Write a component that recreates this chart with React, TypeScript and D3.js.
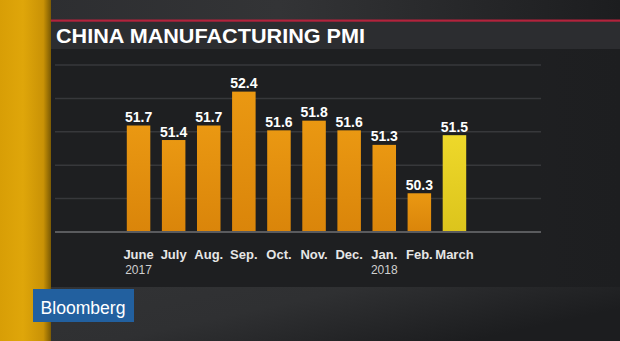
import React from "react";
import * as d3 from "d3";

const title = "CHINA MANUFACTURING PMI";
const categories = ["June", "July", "Aug.", "Sep.", "Oct.", "Nov.", "Dec.", "Jan.", "Feb.", "March"];
const values = [51.7, 51.4, 51.7, 52.4, 51.6, 51.8, 51.6, 51.3, 50.3, 51.5];
const yearLabels = ["2017", "", "", "", "", "", "", "2018", "", ""];
const highlightIndex = 9;
const yDomain = [49.5, 52.95];
const gridCount = 5;
const brand = "Bloomberg";

const W = 620;
const H = 341;
const FONT = "'Liberation Sans', Arial, Helvetica, sans-serif";

export default function App() {
  const x = d3.scaleBand<string>().domain(categories).range([121, 472]).paddingInner(0.33).paddingOuter(0.165);
  const y = d3.scaleLinear().domain(yDomain).range([232, 65]);
  const gridValues = d3.range(gridCount + 1).map((i) => yDomain[0] + ((yDomain[1] - yDomain[0]) * i) / gridCount);

  return (
    <svg width={W} height={H} style={{ position: "fixed", left: 0, top: 0, display: "block" }} fontFamily={FONT}>
      <defs>
        <linearGradient id="bg" x1="0" x2="1" y1="0" y2="0">
          <stop offset="0" stopColor="#26272a" />
          <stop offset="1" stopColor="#1d1e20" />
        </linearGradient>
        <linearGradient id="topStrip" x1="0" x2="1" y1="0" y2="0">
          <stop offset="0" stopColor="#2c2d30" />
          <stop offset="0.45" stopColor="#333436" />
          <stop offset="1" stopColor="#1c1d1f" />
        </linearGradient>
        <linearGradient id="bottomStrip" x1="0" x2="1" y1="0" y2="0.4">
          <stop offset="0" stopColor="#323335" />
          <stop offset="0.5" stopColor="#2f3032" />
          <stop offset="1" stopColor="#1c1d1f" />
        </linearGradient>
        <linearGradient id="yellowStripe" x1="0" x2="1" y1="0" y2="0">
          <stop offset="0" stopColor="#d89e06" />
          <stop offset="0.45" stopColor="#dfa60a" />
          <stop offset="0.85" stopColor="#c99206" />
          <stop offset="1" stopColor="#7a5a04" />
        </linearGradient>
        <linearGradient id="barOrange" x1="0" x2="0" y1="0" y2="1">
          <stop offset="0" stopColor="#ea9812" />
          <stop offset="1" stopColor="#da850a" />
        </linearGradient>
        <linearGradient id="barYellow" x1="0" x2="0" y1="0" y2="1">
          <stop offset="0" stopColor="#eed82a" />
          <stop offset="1" stopColor="#dcc41c" />
        </linearGradient>
      </defs>

      <rect x={0} y={0} width={W} height={H} fill="url(#bg)" />
      <rect x={0} y={0} width={W} height={20} fill="url(#topStrip)" />
      <rect x={0} y={287} width={W} height={H - 287} fill="url(#bottomStrip)" />

      {/* left yellow stripe */}
      <rect x={0} y={0} width={51} height={H} fill="url(#yellowStripe)" />

      {/* title band */}
      <rect x={51} y={21} width={W - 51} height={28} fill="#2c2d30" />
      <rect x={51} y={19.5} width={W - 51} height={2.2} fill="#b3233c" />
      <text x={56} y={43.3} fill="#ffffff" fontSize={21} fontWeight="bold" textLength={309} lengthAdjust="spacingAndGlyphs">
        {title}
      </text>

      {/* chart panel */}
      <rect x={51} y={49} width={490} height={238} fill="#1e1f21" />

      {gridValues.slice(1).map((v, i) => (
        <line key={i} x1={55} x2={541} y1={y(v)} y2={y(v)} stroke="#37383b" strokeWidth={1.5} />
      ))}

      {values.map((v, i) => {
        const c = categories[i];
        const bx = x(c) as number;
        return (
          <rect
            key={c}
            x={bx}
            y={y(v)}
            width={x.bandwidth()}
            height={y(yDomain[0]) - y(v)}
            fill={i === highlightIndex ? "url(#barYellow)" : "url(#barOrange)"}
          />
        );
      })}

      <line x1={55} x2={541} y1={y(yDomain[0])} y2={y(yDomain[0])} stroke="#5a5b5e" strokeWidth={2} />

      {values.map((v, i) => {
        const c = categories[i];
        const cx = (x(c) as number) + x.bandwidth() / 2;
        return (
          <text key={c} x={cx} y={y(v) - 3.5} textAnchor="middle" fill="#ffffff" fontSize={14} fontWeight="bold">
            {v.toFixed(1)}
          </text>
        );
      })}

      {categories.map((c) => {
        const cx = (x(c) as number) + x.bandwidth() / 2;
        return (
          <text key={c} x={cx} y={259} textAnchor="middle" fill="#e6e6e6" fontSize={13} fontWeight="bold">
            {c}
          </text>
        );
      })}

      {yearLabels.map((t, i) =>
        t ? (
          <text
            key={i}
            x={(x(categories[i]) as number) + x.bandwidth() / 2}
            y={273.5}
            textAnchor="middle"
            fill="#cfcfcf"
            fontSize={12}
          >
            {t}
          </text>
        ) : null
      )}

      {/* brand box */}
      <rect x={33} y={289} width={101} height={33} fill="#22609f" />
      <text x={40.5} y={313.5} fill="#ffffff" fontSize={18} textLength={85} lengthAdjust="spacingAndGlyphs">
        {brand}
      </text>
    </svg>
  );
}
